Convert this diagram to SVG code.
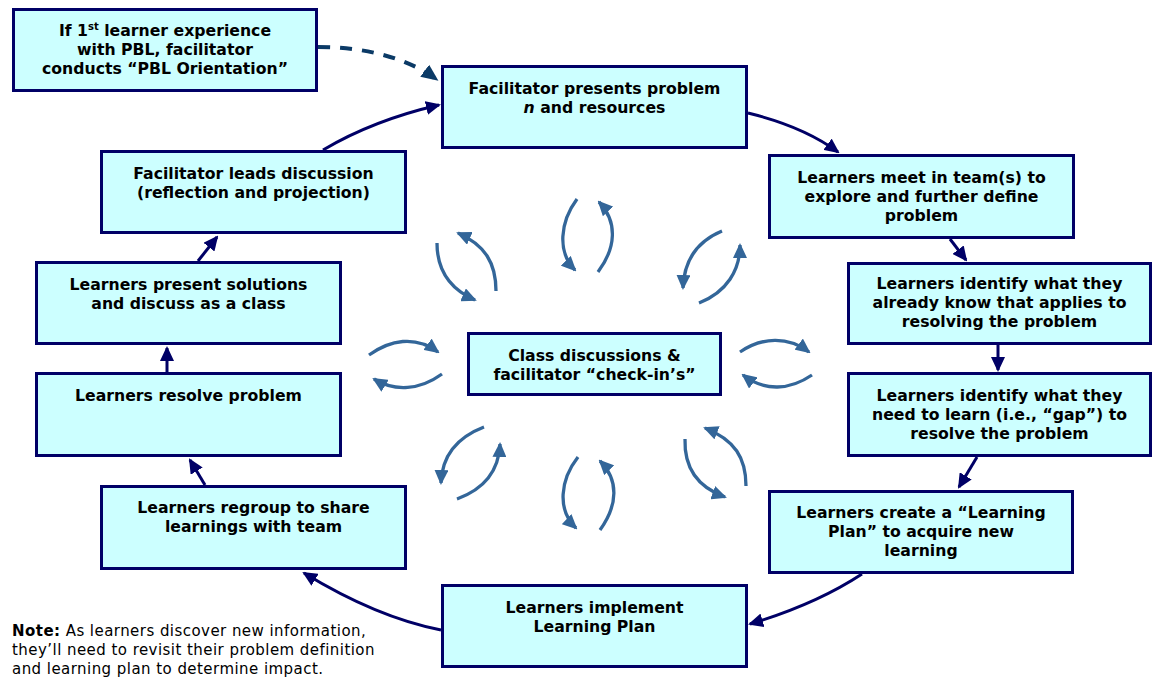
<svg xmlns="http://www.w3.org/2000/svg" width="1153" height="677" viewBox="0 0 1153 677">
<style>
.box{fill:#CCFFFF;stroke:#000066;stroke-width:3}
.t{font-family:"DejaVu Sans",Verdana,sans-serif;font-weight:bold;font-size:15.7px;fill:#000;text-anchor:middle}
.note{font-family:"DejaVu Sans",Verdana,sans-serif;font-size:15px;letter-spacing:0.45px;fill:#000}
.c{fill:none;stroke:#000066;stroke-width:3;marker-end:url(#nav)}
.d{fill:none;stroke:#0B3A66;stroke-width:4;stroke-dasharray:12,10;marker-end:url(#dsh)}
.b{fill:none;stroke:#336699;stroke-width:3.3;marker-end:url(#blu)}
</style>
<defs>
<marker id="nav" viewBox="0 0 15 14" markerWidth="15" markerHeight="14" markerUnits="userSpaceOnUse" refX="13" refY="7" orient="auto"><path d="M0,0 L15,7 L0,14 z" fill="#000066"/></marker>
<marker id="dsh" viewBox="0 0 17 15" markerWidth="17" markerHeight="15" markerUnits="userSpaceOnUse" refX="14" refY="7.5" orient="auto"><path d="M0,0 L17,7.5 L0,15 z" fill="#0B3A66"/></marker>
<marker id="blu" viewBox="0 0 15 14" markerWidth="15" markerHeight="14" markerUnits="userSpaceOnUse" refX="13" refY="7" orient="auto"><path d="M0,0 L15,7 L0,14 z" fill="#336699"/></marker>
</defs>
<g id="connectors">
<path class="d" d="M318,47 C370,47 410,60 436,79"/>
<path class="c" d="M323,150 C360,128 400,114 439,105"/>
<path class="c" d="M748,113 C785,122 815,135 838,152"/>
<path class="c" d="M950,239 L966,260"/>
<path class="c" d="M998,345 L998,370"/>
<path class="c" d="M977,457 L959,487"/>
<path class="c" d="M862,574 C830,595 790,612 750,624"/>
<path class="c" d="M441,630 C390,620 340,595 304,573"/>
<path class="c" d="M205,485 L190,460"/>
<path class="c" d="M167,372 L167,348"/>
<path class="c" d="M198,261 L217,237"/>
</g>
<g id="cycle-arrows">
<path class="b" d="M577,199 C560,222 557,252 575,270"/>
<path class="b" d="M598,272 C616,248 618,222 599,202"/>
<path class="b" d="M437,243 C437,272 452,290 475,300"/>
<path class="b" d="M496,291 C496,263 485,245 458,233"/>
<path class="b" d="M722,231 C698,241 684,260 683,288"/>
<path class="b" d="M699,303 C727,292 740,270 740,245"/>
<path class="b" d="M369,355 C390,340 415,335 438,352"/>
<path class="b" d="M442,374 C420,390 395,392 374,379"/>
<path class="b" d="M740,352 C762,337 788,336 809,352"/>
<path class="b" d="M812,375 C790,390 765,392 743,375"/>
<path class="b" d="M484,427 C458,437 442,455 441,483"/>
<path class="b" d="M457,499 C487,488 499,468 500,444"/>
<path class="b" d="M578,457 C560,480 557,510 576,528"/>
<path class="b" d="M600,530 C618,505 619,480 600,461"/>
<path class="b" d="M685,439 C684,470 700,488 725,497"/>
<path class="b" d="M746,486 C746,458 735,440 705,428"/>
</g>
<g id="orientation"><rect class="box" x="13.5" y="9.5" width="303" height="81"/>
<text class="t" x="165" y="36">If 1<tspan font-size="10px" dy="-6">st</tspan><tspan dy="6"> learner experience</tspan></text>
<text class="t" x="165" y="55">with PBL, facilitator</text>
<text class="t" x="165" y="74">conducts “PBL Orientation”</text></g>
<g id="presents"><rect class="box" x="442.5" y="66.5" width="304" height="81"/>
<text class="t" x="594.5" y="94">Facilitator presents problem</text>
<text class="t" x="594.5" y="113"><tspan font-style="italic">n</tspan> and resources</text></g>
<g id="meet"><rect class="box" x="769.5" y="155.5" width="304" height="82"/>
<text class="t" x="921.5" y="183">Learners meet in team(s) to</text>
<text class="t" x="921.5" y="202">explore and further define</text>
<text class="t" x="921.5" y="221">problem</text></g>
<g id="know"><rect class="box" x="848.5" y="263.5" width="302" height="80"/>
<text class="t" x="999.5" y="289">Learners identify what they</text>
<text class="t" x="999.5" y="308">already know that applies to</text>
<text class="t" x="999.5" y="327">resolving the problem</text></g>
<g id="need"><rect class="box" x="848.5" y="373.5" width="302" height="82"/>
<text class="t" x="999.5" y="401">Learners identify what they</text>
<text class="t" x="999.5" y="420">need to learn (i.e., “gap”) to</text>
<text class="t" x="999.5" y="439">resolve the problem</text></g>
<g id="create"><rect class="box" x="769.5" y="491.5" width="303" height="81"/>
<text class="t" x="921" y="518">Learners create a “Learning</text>
<text class="t" x="921" y="537">Plan” to acquire new</text>
<text class="t" x="921" y="556">learning</text></g>
<g id="implement"><rect class="box" x="442.5" y="585.5" width="304" height="81"/>
<text class="t" x="594.5" y="613">Learners implement</text>
<text class="t" x="594.5" y="632">Learning Plan</text></g>
<g id="regroup"><rect class="box" x="101.5" y="486.5" width="304" height="82"/>
<text class="t" x="253.5" y="513">Learners regroup to share</text>
<text class="t" x="253.5" y="532">learnings with team</text></g>
<g id="resolve"><rect class="box" x="36.5" y="373.5" width="304" height="82"/>
<text class="t" x="188.5" y="401">Learners resolve problem</text></g>
<g id="solutions"><rect class="box" x="36.5" y="262.5" width="304" height="81"/>
<text class="t" x="188.5" y="290">Learners present solutions</text>
<text class="t" x="188.5" y="309">and discuss as a class</text></g>
<g id="leads"><rect class="box" x="101.5" y="151.5" width="304" height="81"/>
<text class="t" x="253.5" y="179">Facilitator leads discussion</text>
<text class="t" x="253.5" y="198">(reflection and projection)</text></g>
<g id="center"><rect class="box" x="468.5" y="333.5" width="252" height="61"/>
<text class="t" x="594.5" y="361">Class discussions &amp;</text>
<text class="t" x="594.5" y="380">facilitator “check-in’s”</text></g>
<g id="note">
<text class="note" x="12" y="636"><tspan font-weight="bold">Note:</tspan> As learners discover new information,</text>
<text class="note" x="12" y="655">they’ll need to revisit their problem definition</text>
<text class="note" x="12" y="674">and learning plan to determine impact.</text>
</g>
</svg>
